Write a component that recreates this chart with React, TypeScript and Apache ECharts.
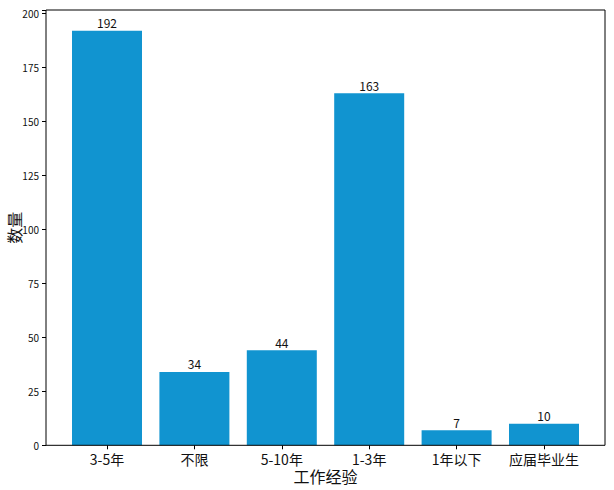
import React, { useEffect, useRef } from "react";
import * as echarts from "echarts";

const categories = ["3-5年", "不限", "5-10年", "1-3年", "1年以下", "应届毕业生"];
const counts = [192, 34, 44, 163, 7, 10];
const yTicks = [0, 25, 50, 75, 100, 125, 150, 175, 200];
const xTitle = "工作经验";
const yTitle = "数量";

const FONT = "'Noto Sans CJK SC', 'DejaVu Sans', sans-serif";

export default function App() {
  const ref = useRef<HTMLDivElement>(null);
  useEffect(() => {
    const chart = echarts.init(ref.current!, null, { renderer: "svg" });
    const frameL = 46, frameT = 10, frameR = 605, frameB = 445.3;
    const gridL = 63.3, gridR = 587.7;
    chart.setOption({
      animation: false,
      backgroundColor: "#ffffff",
      textStyle: { fontFamily: FONT },
      grid: {
        left: gridL,
        right: 614 - gridR,
        top: frameT,
        bottom: 490 - frameB,
        containLabel: false,
        outerBoundsMode: "none",
      },
      xAxis: {
        type: "category",
        data: categories,
        axisLine: { show: false },
        axisTick: { show: true, alignWithLabel: true, length: 4, lineStyle: { color: "#000", width: 1 } },
        axisLabel: { color: "#111", fontSize: 14, margin: 7, interval: 0, fontFamily: FONT },
      },
      yAxis: {
        type: "value",
        min: 0,
        max: 201.6,
        interval: 25,
        offset: gridL - frameL,
        axisLine: { show: false },
        splitLine: { show: false },
        axisTick: { show: true, length: 4, lineStyle: { color: "#000", width: 1 } },
        axisLabel: {
          color: "#111",
          fontSize: 10,
          margin: 7,
          fontFamily: FONT,
          formatter: (v: number) => (yTicks.includes(v) ? String(v) : ""),
        },
      },
      graphic: [
        {
          type: "rect",
          shape: { x: frameL, y: frameT, width: frameR - frameL, height: frameB - frameT },
          style: { fill: "none", stroke: "#000", lineWidth: 1 },
          silent: true,
          z: 100,
        },
        {
          type: "text",
          x: (frameL + frameR) / 2,
          y: 476,
          style: {
            text: xTitle,
            align: "center",
            verticalAlign: "middle",
            fontSize: 16,
            fontFamily: FONT,
            fill: "#111",
          },
        },
        {
          type: "text",
          x: 14,
          y: (frameT + frameB) / 2,
          rotation: Math.PI / 2,
          style: {
            text: yTitle,
            align: "center",
            verticalAlign: "middle",
            fontSize: 16,
            fontFamily: FONT,
            fill: "#111",
          },
        },
      ],
      series: [
        {
          type: "bar",
          data: counts,
          barWidth: 70,
          itemStyle: { color: "#1194d0" },
          label: {
            show: true,
            position: "top",
            distance: 2,
            color: "#111",
            fontSize: 12,
            fontFamily: FONT,
          },
        },
      ],
    });
    return () => chart.dispose();
  }, []);
  return <div ref={ref} style={{ width: 614, height: 490, position: "absolute", left: 0, top: 0 }} />;
}
